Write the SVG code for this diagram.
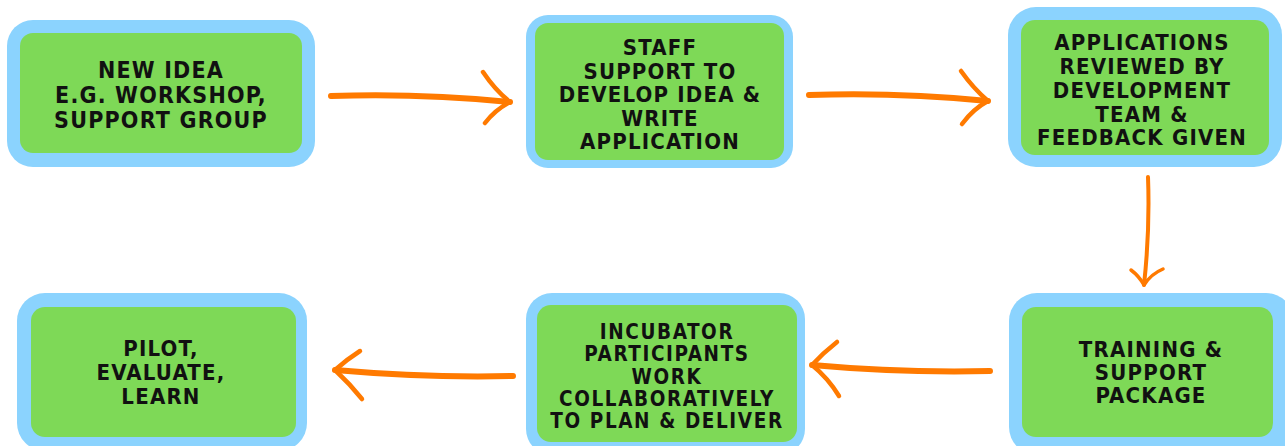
<svg xmlns="http://www.w3.org/2000/svg" width="1285" height="446" viewBox="0 0 1285 446">
<style>
.outer{fill:#8BD3FE}
.inner{fill:#7ED957}
.t{font-family:"DejaVu Sans Condensed","DejaVu Sans",sans-serif;font-stretch:condensed;font-weight:bold;font-size:22px;letter-spacing:1.2px;fill:#111;text-anchor:middle}
.s{font-size:20.5px;letter-spacing:1.6px}
.shaft{fill:none;stroke:#FF7A00;stroke-width:6;stroke-linecap:round}
.arm{fill:none;stroke:#FF7A00;stroke-width:4.5;stroke-linecap:round;stroke-linejoin:round}
</style>
<rect width="1285" height="446" fill="#fff"/>
<g id="n1">
<rect class="outer" x="7" y="20" width="308" height="147" rx="26"/>
<rect class="inner" x="20" y="33" width="282" height="120" rx="13"/>
<text class="t" style="font-size:23px" x="161" y="78">NEW IDEA</text>
<text class="t" style="font-size:23px" x="161" y="103">E.G. WORKSHOP,</text>
<text class="t" style="font-size:23px" x="161" y="128">SUPPORT GROUP</text>
</g>
<g id="n2">
<rect class="outer" x="526" y="15" width="267" height="153" rx="22"/>
<rect class="inner" x="535" y="23" width="249" height="137" rx="13"/>
<text class="t" x="660" y="55">STAFF</text>
<text class="t" x="660" y="79">SUPPORT TO</text>
<text class="t" x="660" y="102">DEVELOP IDEA &amp;</text>
<text class="t" x="660" y="126">WRITE</text>
<text class="t" x="660" y="149">APPLICATION</text>
</g>
<g id="n3">
<rect class="outer" x="1008" y="7" width="274" height="160" rx="28"/>
<rect class="inner" x="1021" y="20" width="248" height="135" rx="14"/>
<text class="t" x="1142" y="50">APPLICATIONS</text>
<text class="t" x="1142" y="74">REVIEWED BY</text>
<text class="t" x="1142" y="98">DEVELOPMENT</text>
<text class="t" x="1142" y="122">TEAM &amp;</text>
<text class="t" x="1142" y="145">FEEDBACK GIVEN</text>
</g>
<g id="n4">
<rect class="outer" x="17" y="293" width="290" height="158" rx="28"/>
<rect class="inner" x="31" y="307" width="265" height="130" rx="14"/>
<text class="t" x="161" y="356">PILOT,</text>
<text class="t" x="161" y="380">EVALUATE,</text>
<text class="t" x="161" y="404">LEARN</text>
</g>
<g id="n5">
<rect class="outer" x="526" y="293" width="279" height="162" rx="26"/>
<rect class="inner" x="537" y="305" width="260" height="137" rx="14"/>
<text class="t s" x="667" y="339">INCUBATOR</text>
<text class="t s" x="667" y="361">PARTICIPANTS</text>
<text class="t s" x="667" y="384">WORK</text>
<text class="t s" x="667" y="406">COLLABORATIVELY</text>
<text class="t s" x="667" y="428">TO PLAN &amp; DELIVER</text>
</g>
<g id="n6">
<rect class="outer" x="1009" y="293" width="285" height="162" rx="28"/>
<rect class="inner" x="1022" y="307" width="251" height="130" rx="14"/>
<text class="t" x="1151" y="357">TRAINING &amp;</text>
<text class="t" x="1151" y="380">SUPPORT</text>
<text class="t" x="1151" y="403">PACKAGE</text>
</g>
<g id="connectors">
<path class="shaft" d="M331,96 Q420,93 510,102"/>
<path class="arm" d="M483,72 Q495,90 510,102 Q495,110 485,123"/>
<path class="shaft" d="M809,95 Q898,92 988,101"/>
<path class="arm" d="M961,71 Q973,88 988,101 Q973,109 962,124"/>
<path class="shaft" style="stroke-width:4" d="M1148,177 Q1150,230 1144,285"/>
<path class="arm" style="stroke-width:3.5" d="M1131,270 Q1139,276 1144,285 Q1151,274 1163,269"/>
<path class="shaft" d="M990,371 Q900,373 812,365"/>
<path class="arm" d="M837,342 Q823,353 812,365 Q828,378 839,396"/>
<path class="shaft" d="M513,376 Q425,378 335,370"/>
<path class="arm" d="M360,351 Q346,360 335,370 Q350,384 362,399"/>
</g>
</svg>
